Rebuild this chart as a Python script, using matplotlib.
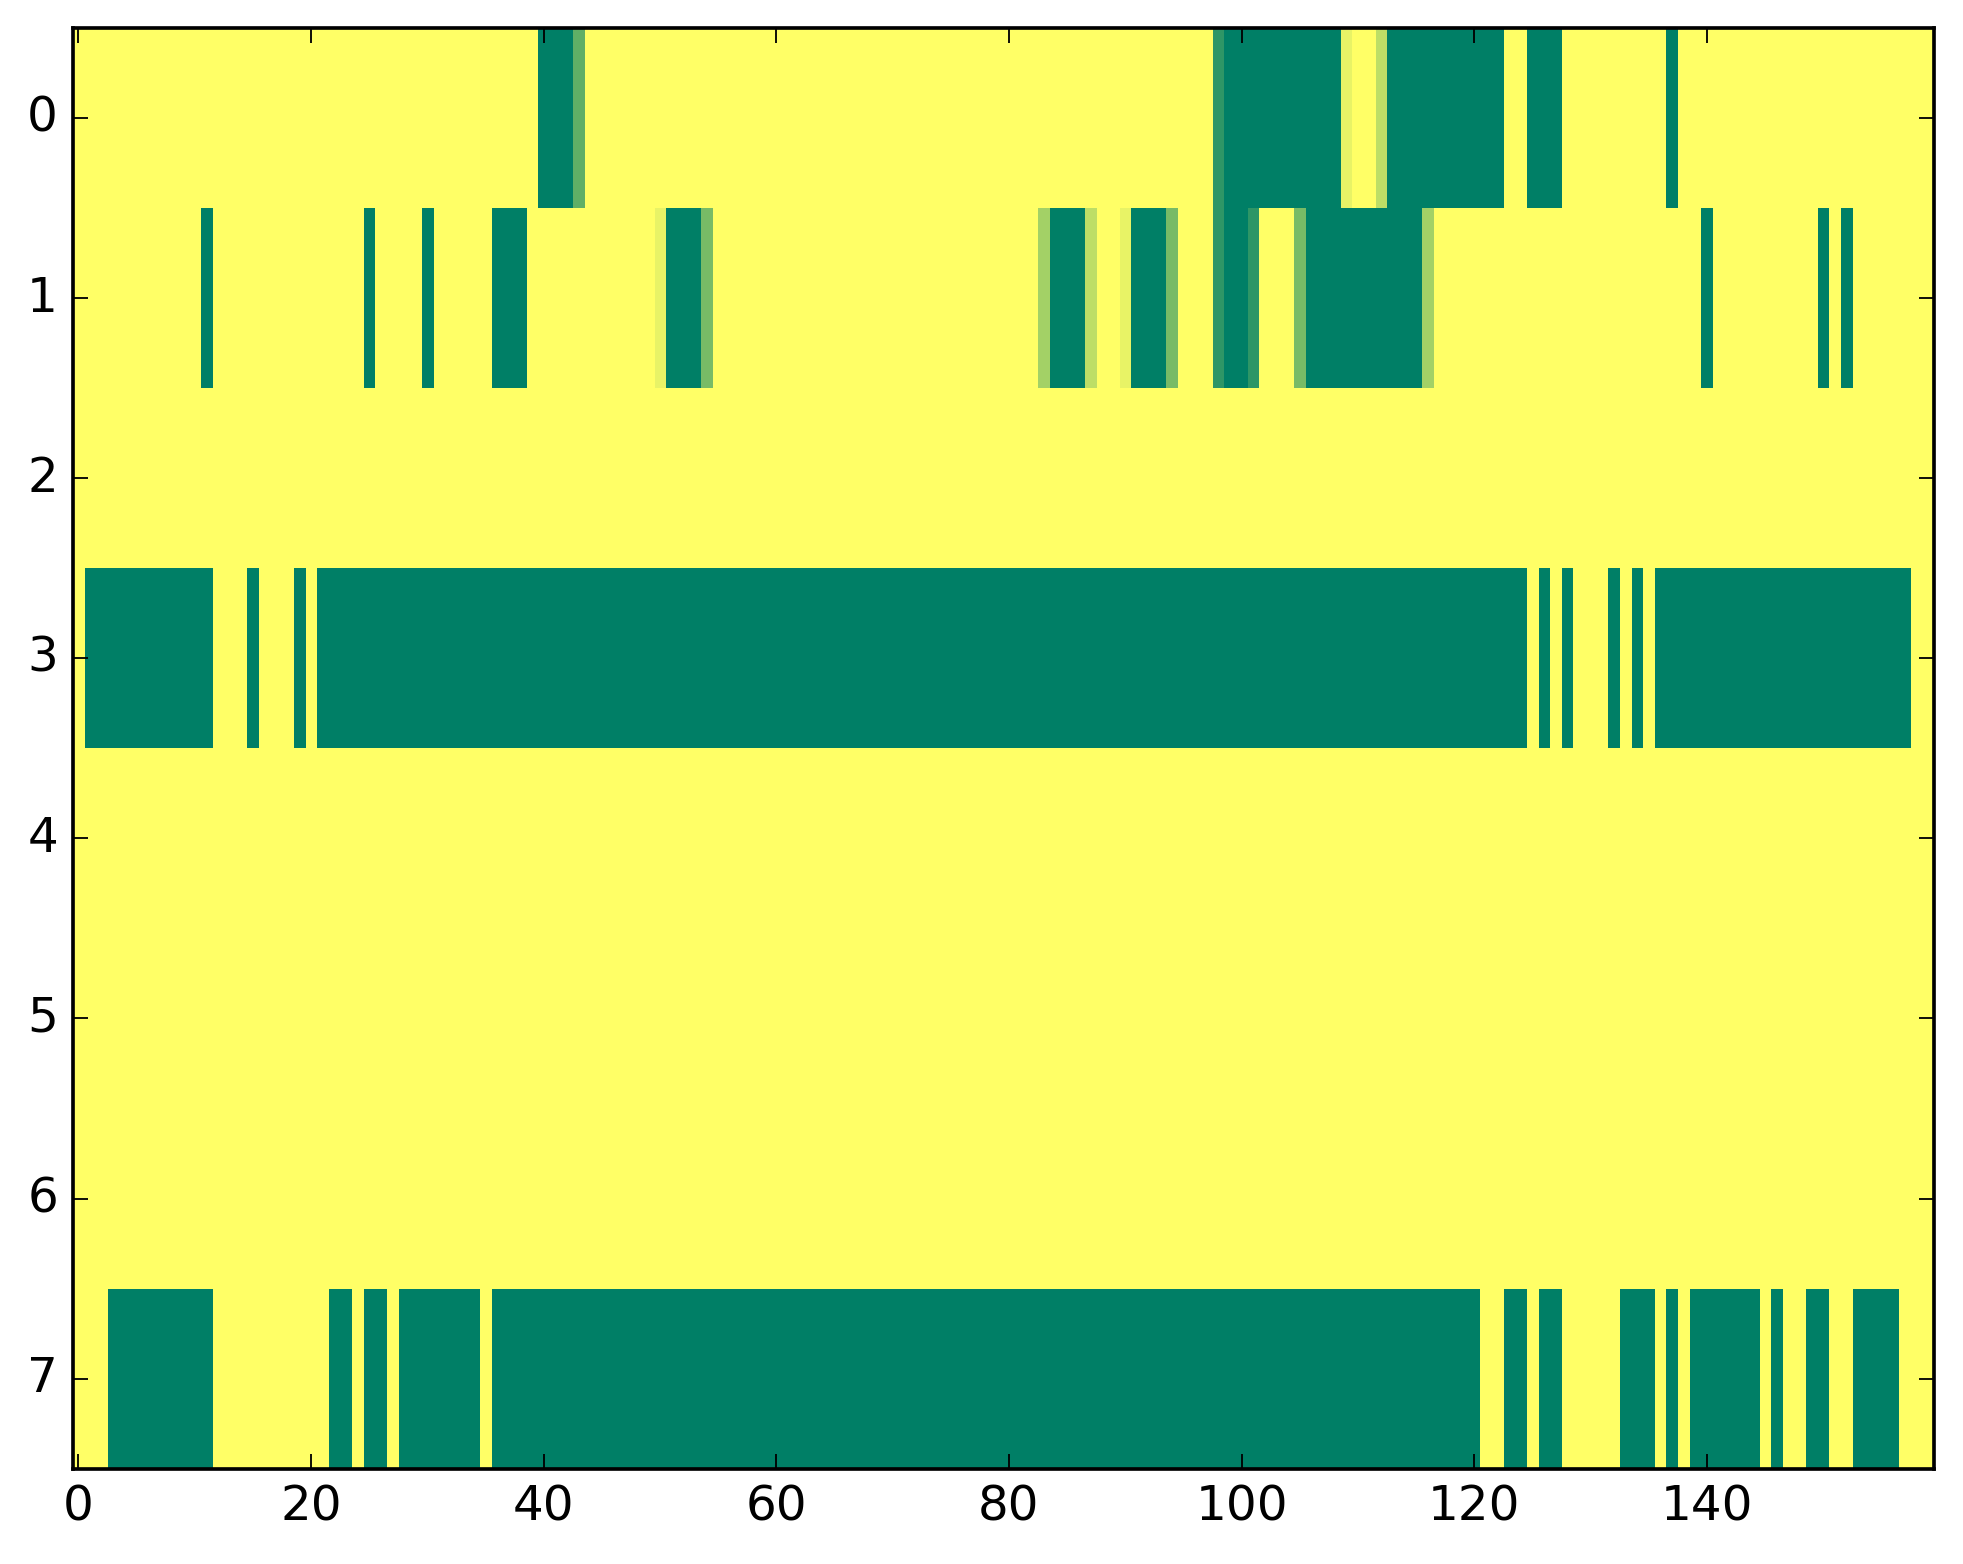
import numpy as np
import matplotlib
matplotlib.use('Agg')
import matplotlib.pyplot as plt

plt.style.use('classic')

N_ROWS = 8
N_COLS = 160

# runs of non-yellow cells per row: (first col, last col, value); everything else = 1.0
row0_runs = [(40, 42, 0.0), (43, 43, 0.375), (98, 98, 0.18), (99, 108, 0.0),
             (109, 109, 0.91), (112, 112, 0.74), (113, 122, 0.0),
             (125, 127, 0.0), (137, 137, 0.0)]
row1_runs = [(11, 11, 0.0), (25, 25, 0.0), (30, 30, 0.0), (36, 38, 0.0),
             (50, 50, 0.91), (51, 53, 0.0), (54, 54, 0.47), (83, 83, 0.64),
             (84, 86, 0.0), (87, 87, 0.74), (90, 90, 0.91), (91, 93, 0.0),
             (94, 94, 0.47), (98, 98, 0.18), (99, 100, 0.0), (101, 101, 0.18),
             (105, 105, 0.47), (106, 115, 0.0), (116, 116, 0.64),
             (140, 140, 0.0), (150, 150, 0.0), (152, 152, 0.0)]
row2_runs = []
row3_runs = [(1, 11, 0.0), (15, 15, 0.0), (19, 19, 0.0), (21, 124, 0.0),
             (126, 126, 0.0), (128, 128, 0.0), (132, 132, 0.0),
             (134, 134, 0.0), (136, 157, 0.0)]
row4_runs = []
row5_runs = []
row6_runs = []
row7_runs = [(3, 11, 0.0), (22, 23, 0.0), (25, 26, 0.0), (28, 34, 0.0),
             (36, 120, 0.0), (123, 124, 0.0), (126, 127, 0.0), (133, 135, 0.0),
             (137, 137, 0.0), (139, 144, 0.0), (146, 146, 0.0), (149, 150, 0.0),
             (153, 156, 0.0)]

all_runs = [row0_runs, row1_runs, row2_runs, row3_runs,
            row4_runs, row5_runs, row6_runs, row7_runs]

grid = np.ones((N_ROWS, N_COLS))
for r, runs in enumerate(all_runs):
    for c0, c1, v in runs:
        grid[r, c0:c1 + 1] = v

DPI = 264
fig = plt.figure(figsize=(1963 / DPI, 1564 / DPI), dpi=DPI, facecolor='white')
ax = fig.add_axes([0.037, 0.061, 0.948, 0.921])
ax.imshow(grid, cmap='summer', aspect='auto', interpolation='nearest',
          vmin=0, vmax=1)
ax.set_xlim(-0.5, N_COLS - 0.5)
ax.set_ylim(N_ROWS - 0.5, -0.5)
ax.set_xticks(np.arange(0, 141, 20))
ax.set_yticks(np.arange(0, 8))
ax.tick_params(labelsize=13.2)

fig.savefig('out.png', dpi=DPI, facecolor='white')
